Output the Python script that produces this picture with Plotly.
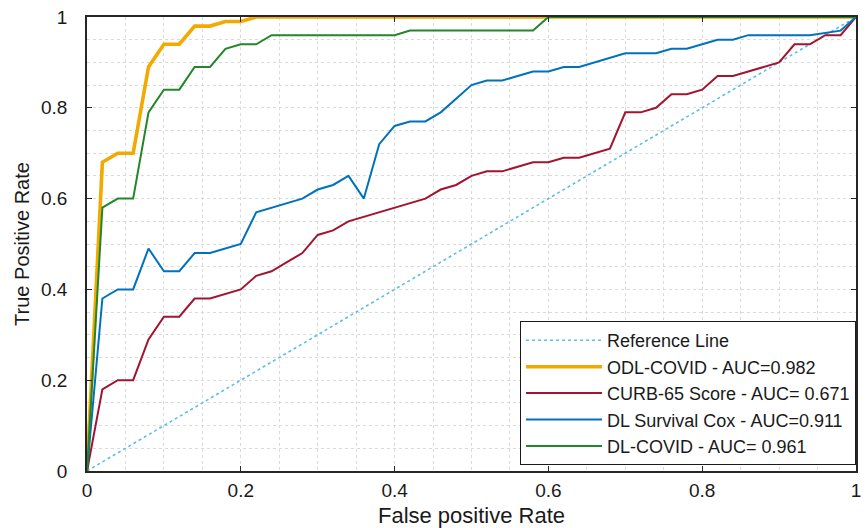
import plotly.graph_objects as go

# ---- data ----
ref_fpr = [0.0, 1.0]
ref_tpr = [0.0, 1.0]

odl_fpr = [0, 0.02, 0.04, 0.06, 0.08, 0.10, 0.12, 0.14, 0.16, 0.18, 0.20, 0.22, 1.0]
odl_tpr = [0, 0.68, 0.70, 0.70, 0.89, 0.94, 0.94, 0.98, 0.98, 0.99, 0.99, 1.0, 1.0]

curb_fpr = [0, .02, .04, .06, .08, .10, .12, .14, .16, .18, .20, .22, .24, .26, .28, .30, .32, .34,
            .36, .38, .40, .42, .44, .46, .48, .50, .52, .54, .56, .58, .60, .62, .64, .66, .68, .70,
            .72, .74, .76, .78, .80, .82, .84, .86, .88, .90, .92, .94, .96, .98, 1.0]
curb_tpr = [0, .18, .20, .20, .29, .34, .34, .38, .38, .39, .40, .43, .44, .46, .48, .52, .53, .55,
            .56, .57, .58, .59, .60, .62, .63, .65, .66, .66, .67, .68, .68, .69, .69, .70, .71, .79,
            .79, .80, .83, .83, .84, .87, .87, .88, .89, .90, .94, .94, .96, .96, 1.0]

cox_fpr = [0, .02, .04, .06, .08, .10, .12, .14, .16, .18, .20, .22, .24, .26, .28, .30, .32, .34,
           .36, .38, .40, .42, .44, .46, .48, .50, .52, .54, .56, .58, .60, .62, .64, .66, .68, .70,
           .72, .74, .76, .78, .80, .82, .84, .86, .94, .96, .98, 1.0]
cox_tpr = [0, .38, .40, .40, .49, .44, .44, .48, .48, .49, .50, .57, .58, .59, .60, .62, .63, .65,
           .60, .72, .76, .77, .77, .79, .82, .85, .86, .86, .87, .88, .88, .89, .89, .90, .91, .92,
           .92, .92, .93, .93, .94, .95, .95, .96, .96, .965, .97, 1.0]

dl_fpr = [0, 0.02, 0.04, 0.06, 0.08, 0.10, 0.12, 0.14, 0.16, 0.18, 0.20, 0.22, 0.24, 0.40, 0.42, 0.58, 0.60, 1.0]
dl_tpr = [0, 0.58, 0.60, 0.60, 0.79, 0.84, 0.84, 0.89, 0.89, 0.93, 0.94, 0.94, 0.96, 0.96, 0.97, 0.97, 1.0, 1.0]

names = ["Reference Line", "ODL-COVID - AUC=0.982", "CURB-65 Score - AUC= 0.671",
         "DL Survival Cox - AUC=0.911", "DL-COVID - AUC= 0.961"]

FONT = "Arial, 'Liberation Sans', sans-serif"

fig = go.Figure()
fig.add_trace(go.Scatter(x=ref_fpr, y=ref_tpr, mode="lines", name=names[0],
                         line=dict(color="#5BBDEB", width=1.6, dash="dot")))
fig.add_trace(go.Scatter(x=odl_fpr, y=odl_tpr, mode="lines", name=names[1],
                         line=dict(color="#F2A900", width=3.6)))
fig.add_trace(go.Scatter(x=curb_fpr, y=curb_tpr, mode="lines", name=names[2],
                         line=dict(color="#A2142F", width=2)))
fig.add_trace(go.Scatter(x=cox_fpr, y=cox_tpr, mode="lines", name=names[3],
                         line=dict(color="#0072BD", width=2)))
fig.add_trace(go.Scatter(x=dl_fpr, y=dl_tpr, mode="lines", name=names[4],
                         line=dict(color="#23862A", width=2)))

axis_common = dict(
    range=[0, 1], dtick=0.2, tick0=0,
    showline=True, linecolor="#262626", linewidth=1.5, mirror="ticks",
    ticks="inside", ticklen=5, tickcolor="#262626", tickwidth=1.2,
    showgrid=True, gridcolor="#DADADA", griddash="dot", gridwidth=1,
    minor=dict(dtick=0.05, showgrid=True, gridcolor="#DADADA", griddash="dot", gridwidth=1),
    zeroline=False, automargin=False,
    tickfont=dict(family=FONT, size=19, color="#1a1a1a"),
    tickformat="~g",
)

fig.update_layout(
    width=868, height=528,
    margin=dict(l=87, r=12, t=17, b=57),
    paper_bgcolor="white", plot_bgcolor="white",
    font=dict(family=FONT, color="#1a1a1a"),
    showlegend=True,
    legend=dict(x=1.0, y=0.013, xanchor="right", yanchor="bottom",
                bgcolor="white", bordercolor="#1a1a1a", borderwidth=1,
                font=dict(family=FONT, size=18, color="#1a1a1a"),
                itemwidth=76, tracegroupgap=0),
    xaxis=dict(axis_common, title=dict(text="False positive Rate",
                                       font=dict(family=FONT, size=22), standoff=10),
               ticklabelstandoff=1),
    yaxis=dict(axis_common, title=dict(text="True Positive Rate",
                                       font=dict(family=FONT, size=20), standoff=6),
               ticklabelstandoff=14),
)

fig.write_html("out.html")
